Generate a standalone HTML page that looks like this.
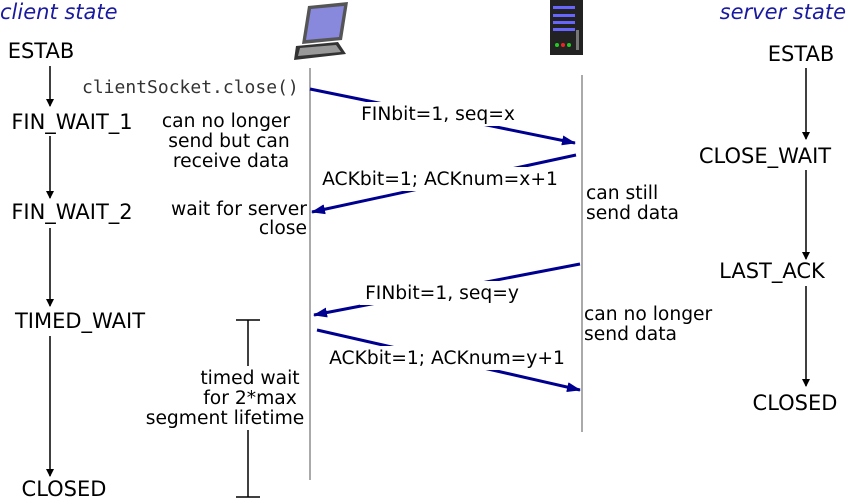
<!DOCTYPE html>
<html><head><meta charset="utf-8"><style>
body{margin:0;background:#fff}
svg{display:block}
text{font-family:"DejaVu Sans","Liberation Sans",sans-serif;font-size:18.7px;fill:#000}
.s{font-size:21px}
.m{font-family:"DejaVu Sans Mono","Liberation Mono",monospace;font-size:18px;fill:#333}
.h{font-style:italic;fill:#1a1aa0;font-size:21px}
</style></head><body>
<svg width="846" height="498" viewBox="0 0 846 498">
<defs>
<marker id="a" markerWidth="14" markerHeight="10" refX="13" refY="5" orient="auto" markerUnits="userSpaceOnUse"><path d="M0,0 L14,5 L0,10z" fill="#000090"/></marker>
<marker id="k" markerWidth="8" markerHeight="8" refX="7" refY="4" orient="auto" markerUnits="userSpaceOnUse"><path d="M0,0 L8,4 L0,8z" fill="#000"/></marker>
</defs>
<text class="h" x="0" y="19">client state</text>
<text class="h" x="846" y="19" text-anchor="end">server state</text>
<!-- laptop -->
<g transform="translate(288,2)">
<path d="M20,4 L60,0 L54,38 L14,42z" fill="#555"/>
<path d="M23,7 L56,4 L51,35 L18,38z" fill="#8888dd"/>
<path d="M8,44 L50,40 L58,52 L6,58z" fill="#333"/>
<path d="M12,46 L48,43 L53,50 L10,54z" fill="#999"/>
</g>
<!-- server -->
<g transform="translate(550,0)">
<rect x="0" y="0" width="33" height="55" fill="#222"/>
<rect x="3" y="6" width="22" height="3" fill="#66f"/><rect x="3" y="14" width="22" height="3" fill="#66f"/>
<rect x="3" y="21" width="22" height="3" fill="#66f"/><rect x="3" y="28" width="22" height="3" fill="#66f"/>
<rect x="26" y="30" width="3" height="20" fill="#777"/>
<circle cx="7" cy="45" r="2" fill="#2c2"/><circle cx="13" cy="45" r="2" fill="#e22"/><circle cx="19" cy="45" r="2" fill="#2c2"/>
</g>
<line x1="310" y1="68" x2="310" y2="480" stroke="#aaa" stroke-width="2"/>
<line x1="582" y1="75" x2="582" y2="432" stroke="#aaa" stroke-width="2"/>
<g stroke="#000090" stroke-width="3" fill="none">
<line x1="310" y1="89" x2="575" y2="143" marker-end="url(#a)"/>
<line x1="576" y1="155" x2="312" y2="212" marker-end="url(#a)"/>
<line x1="580" y1="264" x2="314" y2="315" marker-end="url(#a)"/>
<line x1="317" y1="330" x2="580" y2="390" marker-end="url(#a)"/>
</g>
<rect x="356" y="102" width="164" height="24" fill="#fff"/>
<text x="438" y="120" text-anchor="middle">FINbit=1, seq=x</text>
<rect x="318" y="167" width="246" height="24" fill="#fff"/>
<text x="440" y="185" text-anchor="middle">ACKbit=1; ACKnum=x+1</text>
<rect x="360" y="281" width="164" height="24" fill="#fff"/>
<text x="442" y="299" text-anchor="middle">FINbit=1, seq=y</text>
<rect x="325" y="346" width="246" height="24" fill="#fff"/>
<text x="447" y="364" text-anchor="middle">ACKbit=1; ACKnum=y+1</text>
<text class="m" x="82" y="93">clientSocket.close()</text>
<text x="226" y="127" text-anchor="middle">can no longer</text>
<text x="229" y="147" text-anchor="middle">send but can</text>
<text x="231" y="167" text-anchor="middle">receive data</text>
<text x="307" y="215" text-anchor="end">wait for server</text>
<text x="307" y="234" text-anchor="end">close</text>
<text x="586" y="199">can still</text>
<text x="586" y="219">send data</text>
<text x="584" y="320">can no longer</text>
<text x="584" y="340">send data</text>
<g stroke="#000" stroke-width="1.5">
<line x1="248" y1="320" x2="248" y2="497"/>
<line x1="236" y1="320" x2="260" y2="320"/>
<line x1="236" y1="497" x2="260" y2="497"/>
</g>
<rect x="140" y="366" width="168" height="64" fill="#fff"/>
<text x="250" y="384" text-anchor="middle">timed wait</text>
<text x="250" y="404" text-anchor="middle">for 2*max</text>
<text x="225" y="424" text-anchor="middle">segment lifetime</text>
<text class="s" x="41" y="58" text-anchor="middle">ESTAB</text>
<text class="s" x="72" y="129" text-anchor="middle">FIN_WAIT_1</text>
<text class="s" x="72" y="219" text-anchor="middle">FIN_WAIT_2</text>
<text class="s" x="80" y="328" text-anchor="middle">TIMED_WAIT</text>
<text class="s" x="64" y="496" text-anchor="middle">CLOSED</text>
<g stroke="#000" stroke-width="1.5" marker-end="url(#k)">
<line x1="50" y1="66" x2="50" y2="106"/>
<line x1="50" y1="136" x2="50" y2="198"/>
<line x1="50" y1="228" x2="50" y2="306"/>
<line x1="50" y1="336" x2="50" y2="476"/>
<line x1="806" y1="68" x2="806" y2="139"/>
<line x1="806" y1="170" x2="806" y2="259"/>
<line x1="806" y1="286" x2="806" y2="386"/>
</g>
<text class="s" x="801" y="61" text-anchor="middle">ESTAB</text>
<text class="s" x="765" y="163" text-anchor="middle">CLOSE_WAIT</text>
<text class="s" x="772" y="278" text-anchor="middle">LAST_ACK</text>
<text class="s" x="795" y="410" text-anchor="middle">CLOSED</text>
</svg>
</body></html>
